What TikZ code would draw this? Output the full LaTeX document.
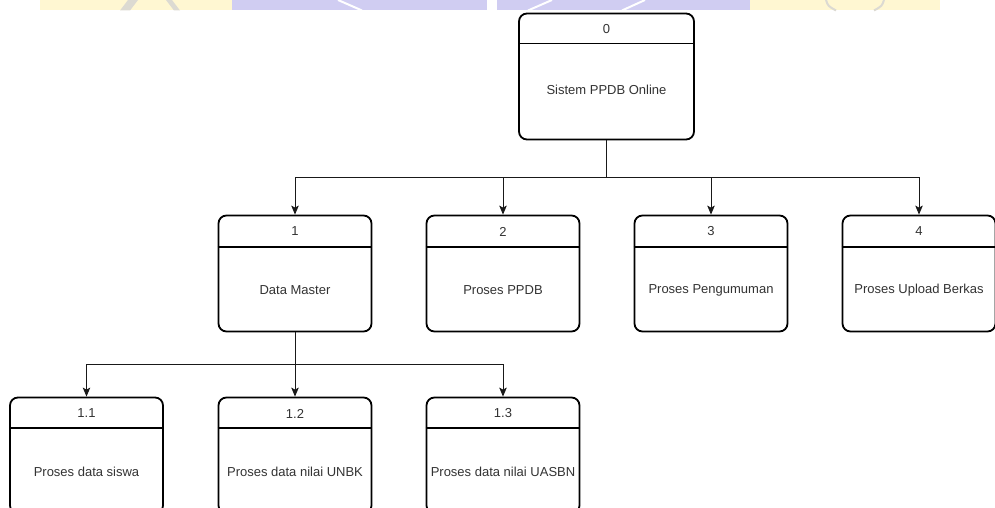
\documentclass[tikz,border=0pt]{standalone}
\usepackage{fontspec}
\setmainfont{Liberation Sans}
\usetikzlibrary{arrows.meta,calc}
\definecolor{wmyellow}{HTML}{FFF7D2}
\definecolor{wmpurple}{HTML}{D0CDF2}
\definecolor{wmgray}{HTML}{DCDAD2}
\definecolor{txt}{HTML}{333333}
\tikzset{
  procbox/.style={draw=black, line width=1.8pt, rounded corners=8pt,
    minimum width=153pt, minimum height=116pt, inner sep=0pt, fill=white},
  bigbox/.style={procbox, minimum width=175pt, minimum height=126pt},
  divider/.style={draw=black, line width=1.8pt},
  lbl/.style={font=\fontsize{13}{15}\selectfont, text=txt, inner sep=0pt},
  conn/.style={draw=black!90, line width=1pt, -{Stealth[length=9pt,width=7.5pt,inset=2pt]}},
  stemline/.style={draw=black!90, line width=1pt},
}
\begin{document}
\begin{tikzpicture}[x=1pt,y=-1pt]
\useasboundingbox (0,0) rectangle (995,508);
\begin{scope}
\clip (0,0) rectangle (995,508);
% watermark band (cropped logo at the top edge)
\fill[wmyellow] (40,0) rectangle (232,10.5);
\fill[wmpurple] (232,0) rectangle (487,10.5);
\fill[wmpurple] (497,0) rectangle (750,10.5);
\fill[wmyellow] (750,0) rectangle (940,10.5);
\fill[wmgray] (120,10.5) -- (128,0) -- (138,0) -- (130,10.5) -- cycle;
\fill[wmgray] (166,0) -- (172,0) -- (180,10.5) -- (174,10.5) -- cycle;
\draw[white, line width=2pt] (338,0) -- (362,10.5);
\draw[white, line width=2pt] (528,10.5) -- (552,0);
\draw[white, line width=2pt] (622,10.5) -- (645,0);
\draw[wmgray, line width=2pt] (826,0) .. controls (828,6) .. (836,10.5);
\draw[wmgray, line width=2pt] (884,0) .. controls (882,6) .. (874,10.5);

% level 0
\node[bigbox] (b0) at (606.5,76.5) {};
\draw[divider] ($(b0.north west)+(0,31)$) -- ($(b0.north east)+(0,31)$);
\node[lbl] (n0) at (606.5,29) {0};
\node[lbl] (t0) at (606.5,90) {Sistem PPDB Online};

% level 1
\foreach \nm/\x/\num/\txt in {b1/295/1/Data Master, b2/503/2/Proses PPDB, b3/711/3/Proses Pengumuman, b4/919/4/Proses Upload Berkas}{
  \node[procbox] (\nm) at (\x,273.5) {};
  \draw[divider] ($(\nm.north west)+(0,32)$) -- ($(\nm.north east)+(0,32)$);
  \node[lbl] (\nm num) at (\x,231.5) {\num};
  \node[lbl] (\nm txt) at (\x,290) {\txt};
}

% level 2
\foreach \nm/\x/\num/\txt in {b11/86.5/1.1/Proses data siswa, b12/295/1.2/Proses data nilai UNBK, b13/503/1.3/Proses data nilai UASBN}{
  \node[procbox] (\nm) at (\x,455.5) {};
  \draw[divider] ($(\nm.north west)+(0,31)$) -- ($(\nm.north east)+(0,31)$);
  \node[lbl] (\nm num) at (\x,413.5) {\num};
  \node[lbl] (\nm txt) at (\x,472) {\txt};
}

% connectors
\coordinate (j0) at (606.5,177);
\draw[stemline] (b0.south) -- (j0);
\foreach \nm in {b1,b2,b3,b4}{
  \draw[conn] (j0) -| (\nm.north);
}
\coordinate (j1) at (295,364);
\draw[stemline] (b1.south) -- (j1);
\foreach \nm in {b11,b12,b13}{
  \draw[conn] (j1) -| (\nm.north);
}
\end{scope}
\end{tikzpicture}
\end{document}
